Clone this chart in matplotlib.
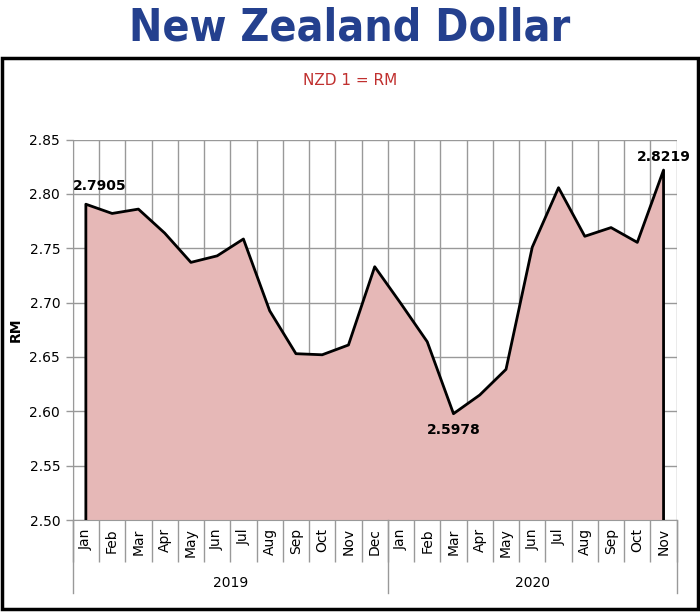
import numpy as np
import matplotlib
matplotlib.use("Agg")
import matplotlib.pyplot as plt
import matplotlib.transforms as mtrans
from matplotlib.patches import Rectangle

months = ["Jan", "Feb", "Mar", "Apr", "May", "Jun", "Jul", "Aug", "Sep", "Oct", "Nov", "Dec",
          "Jan", "Feb", "Mar", "Apr", "May", "Jun", "Jul", "Aug", "Sep", "Oct", "Nov"]
years = ["2019", "2020"]
year_counts = [12, 11]
rates = [2.7905, 2.782, 2.786, 2.764, 2.737, 2.743, 2.7585, 2.6925, 2.653, 2.652, 2.661, 2.733,
         2.699, 2.664, 2.5978, 2.615, 2.6386, 2.751, 2.8057, 2.761, 2.769, 2.7554, 2.8219]
labelled = {0: "2.7905", 14: "2.5978", 22: "2.8219"}

plt.rcParams['font.family'] = ['DejaVu Sans']

fig = plt.figure(figsize=(7.0, 6.12), dpi=100)
ax = fig.add_axes([0.1039, 0.1503, 0.8628, 0.6217])

x = np.arange(len(rates))
base = 2.50
ax.fill_between(x, rates, base, color='#E6B8B7', zorder=2, linewidth=0)
ax.plot([x[0]] + list(x) + [x[-1]], [base] + rates + [base], color='black', linewidth=2, zorder=3)

ax.set_xlim(-0.5, len(rates) - 0.5)
ax.set_ylim(2.50, 2.85)
ax.set_yticks(np.arange(2.50, 2.851, 0.05))
ax.set_yticklabels([f"{v:.2f}" for v in np.arange(2.50, 2.851, 0.05)], fontsize=10)
ax.set_xticks(x)
ax.set_xticklabels(months, rotation=90, fontsize=10, va='top')
ax.set_xticks(np.arange(-0.5, len(rates)), minor=True)
ax.tick_params(axis='x', which='major', length=0, pad=6)
ax.tick_params(axis='x', which='minor', length=30, color='#999999', width=1)
ax.tick_params(axis='y', length=5, color='#999999', width=1, pad=4)

ax.grid(True, axis='y', color='#999999', linewidth=1, zorder=0)
ax.grid(True, axis='x', which='minor', color='#999999', linewidth=1, zorder=0)
for side in ['top', 'right']:
    ax.spines[side].set_visible(False)
for side in ['left', 'bottom']:
    ax.spines[side].set_color('#999999')
ax.set_axisbelow(True)

ax.set_ylabel("RM", fontsize=10, fontweight='bold')
ax.yaxis.set_label_coords(-0.083, 0.5)

# value labels
ax.text(-0.5, rates[0] + 0.01, labelled[0], fontsize=10, fontweight='bold', ha='left', va='bottom', zorder=4)
ax.text(14, rates[14] - 0.009, labelled[14], fontsize=10, fontweight='bold', ha='center', va='top', zorder=4)
ax.text(22, rates[22] + 0.006, labelled[22], fontsize=10, fontweight='bold', ha='center', va='bottom', zorder=4)

# year grouping
trans = mtrans.blended_transform_factory(ax.transData, ax.transAxes)
start = -0.5
edges = [start]
for yr, n in zip(years, year_counts):
    ax.text(start + n / 2, -0.165, yr, transform=trans, ha='center', va='center', fontsize=10)
    start += n
    edges.append(start)
for e in edges:
    ax.plot([e, e], [0, -0.192], transform=trans, color='#999999', linewidth=1, clip_on=False)

fig.text(0.5, 0.955, "New Zealand Dollar", ha='center', va='center', fontsize=32,
         fontweight='bold', fontstretch='condensed', color='#24408E', family='DejaVu Sans')
fig.text(0.5, 0.868, "NZD 1 = RM", ha='center', va='center', fontsize=11, color='#C0302F')

frame = Rectangle((2 / 700, 3 / 612), 696 / 700, 551 / 612, transform=fig.transFigure,
                  fill=False, edgecolor='black', linewidth=2.5)
fig.patches.append(frame)

fig.savefig("out.png", dpi=100)
